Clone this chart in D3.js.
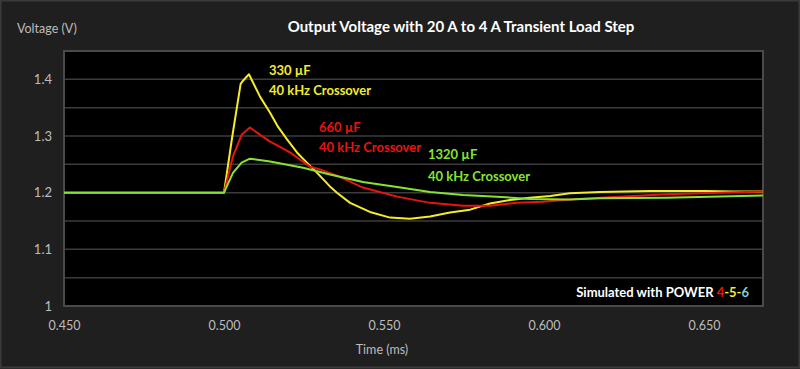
<!DOCTYPE html>
<html><head><meta charset="utf-8">
<script src="https://cdn.jsdelivr.net/npm/d3@7/dist/d3.min.js"></script>
<style>
html,body{margin:0;padding:0;background:#1f1f1f;}
svg{display:block;}
text{font-family:Lato,"DejaVu Sans",sans-serif;}
</style></head><body>
<svg id="chart" width="800" height="369"></svg>
<script>
// ---- data (time in ms, voltage in V) ----
const yTicks = [1, 1.1, 1.2, 1.3, 1.4];
const yGrid = [1.05, 1.1, 1.15, 1.2, 1.25, 1.3, 1.35, 1.4];
const xTicks = [0.45, 0.5, 0.55, 0.6, 0.65];
const seriesNames = ["330 µF", "660 µF", "1320 µF"];
const crossoverLabel = "40 kHz Crossover";
const v330 = [[0.450,1.200],[0.500,1.200],[0.5025,1.296],[0.5052,1.392],[0.5060,1.398],[0.5078,1.409],[0.5091,1.394],[0.5113,1.369],[0.5144,1.341],[0.5169,1.316],[0.5197,1.294],[0.5228,1.271],[0.5259,1.253],[0.5291,1.235],[0.5331,1.211],[0.5353,1.200],[0.5394,1.182],[0.5456,1.166],[0.5519,1.156],[0.5581,1.154],[0.5644,1.158],[0.5706,1.165],[0.5769,1.170],[0.5831,1.181],[0.5894,1.187],[0.5956,1.191],[0.6019,1.194],[0.6081,1.199],[0.6175,1.201],[0.6331,1.203],[0.6500,1.203],[0.6591,1.202],[0.6684,1.202]];
const v660 = [[0.450,1.200],[0.500,1.200],[0.5028,1.264],[0.5055,1.302],[0.5081,1.315],[0.5113,1.302],[0.5144,1.290],[0.5175,1.281],[0.5206,1.271],[0.5238,1.258],[0.5269,1.246],[0.5300,1.241],[0.5353,1.230],[0.5434,1.209],[0.5541,1.193],[0.5644,1.182],[0.5747,1.177],[0.5831,1.177],[0.5916,1.182],[0.5997,1.184],[0.6081,1.188],[0.6175,1.191],[0.6384,1.197],[0.6684,1.202]];
const v1320 = [[0.450,1.200],[0.500,1.200],[0.5028,1.235],[0.5055,1.253],[0.5081,1.260],[0.5144,1.255],[0.5247,1.244],[0.5331,1.232],[0.5434,1.219],[0.5541,1.210],[0.5644,1.201],[0.5747,1.196],[0.5853,1.193],[0.5956,1.189],[0.6081,1.188],[0.6175,1.190],[0.6384,1.191],[0.6684,1.195]];

const svg = d3.select("#chart");
const W = 800, H = 369;
const m = {left:64, right:763, top:51, bottom:306};
const x = d3.scaleLinear().domain([0.45, 0.45 + (m.right - m.left)/3200]).range([m.left, m.right]);
const y = d3.scaleLinear().domain([1, 1.45]).range([m.bottom, m.top]);

svg.append("rect").attr("x",0).attr("y",0).attr("width",W).attr("height",H).attr("fill","#1f1f1f");
svg.append("rect").attr("x",0.5).attr("y",0.5).attr("width",W-1).attr("height",H-2).attr("fill","none").attr("stroke","#3a3a3a").attr("stroke-width",2);

svg.append("rect").attr("x",m.left).attr("y",m.top).attr("width",m.right-m.left).attr("height",m.bottom-m.top).attr("fill","#000");

// gridlines
svg.append("g").selectAll("line").data(yGrid).join("line")
  .attr("x1",m.left).attr("x2",m.right)
  .attr("y1",d=>y(d)).attr("y2",d=>y(d))
  .attr("stroke","#3c3c3c").attr("stroke-width",1.5);

// plot border
svg.append("rect").attr("x",m.left).attr("y",m.top).attr("width",m.right-m.left).attr("height",m.bottom-m.top)
  .attr("fill","none").attr("stroke","#4a4a4a").attr("stroke-width",2);

// axes
const yAxis = d3.axisLeft(y).tickValues(yTicks).tickSize(0).tickPadding(12).tickFormat(d3.format("~g"));
const gy = svg.append("g").attr("transform",`translate(${m.left},0)`).call(yAxis);
gy.select(".domain").remove();
gy.selectAll("text").attr("fill","#bdbdbd").attr("font-size",13);

const xAxis = d3.axisBottom(x).tickValues(xTicks).tickSize(0).tickPadding(15).tickFormat(d3.format(".3f"));
const gx = svg.append("g").attr("transform",`translate(0,${m.bottom})`).call(xAxis);
gx.select(".domain").remove();
gx.selectAll("text").attr("fill","#bdbdbd").attr("font-size",12.5);

// lines
const line = d3.line().x(d=>x(d[0])).y(d=>y(d[1]));
const series = [
  {data:v330, color:"#f4ec2a"},
  {data:v660, color:"#e8150f"},
  {data:v1320, color:"#86e431"}
];
svg.append("g").selectAll("path").data(series).join("path")
  .attr("d",d=>line(d.data)).attr("fill","none")
  .attr("stroke",d=>d.color).attr("stroke-width",2).attr("stroke-linejoin","round");

// annotations
const ann = [
  {name:seriesNames[0], color:"#f4ec2a", x:269, y1:75, y2:95},
  {name:seriesNames[1], color:"#e8150f", x:319, y1:132, y2:152},
  {name:seriesNames[2], color:"#86e431", x:428, y1:159, y2:181}
];
ann.forEach(a=>{
  svg.append("text").attr("x",a.x).attr("y",a.y1).attr("fill",a.color).attr("font-size",13).attr("font-weight","bold").text(a.name);
  svg.append("text").attr("x",a.x).attr("y",a.y2).attr("fill",a.color).attr("font-size",13).attr("font-weight","bold").text(crossoverLabel);
});

// titles
svg.append("text").attr("x",461).attr("y",32).attr("text-anchor","middle").attr("fill","#ffffff")
  .attr("font-size",15).attr("font-weight","bold").text("Output Voltage with 20 A to 4 A Transient Load Step");
svg.append("text").attr("x",17).attr("y",33).attr("fill","#bdbdbd").attr("font-size",12.5).text("Voltage (V)");
svg.append("text").attr("x",382).attr("y",354).attr("text-anchor","middle").attr("fill","#bdbdbd").attr("font-size",12.5).text("Time (ms)");

const sim = svg.append("text").attr("x",749).attr("y",297).attr("text-anchor","end").attr("fill","#ffffff").attr("font-size",13).attr("font-weight","bold");
sim.append("tspan").text("Simulated with POWER ");
sim.append("tspan").attr("fill","#e8150f").text("4");
sim.append("tspan").attr("fill","#f4ec2a").text("-5-");
sim.append("tspan").attr("fill","#7fd3dc").text("6");
</script>
</body></html>
